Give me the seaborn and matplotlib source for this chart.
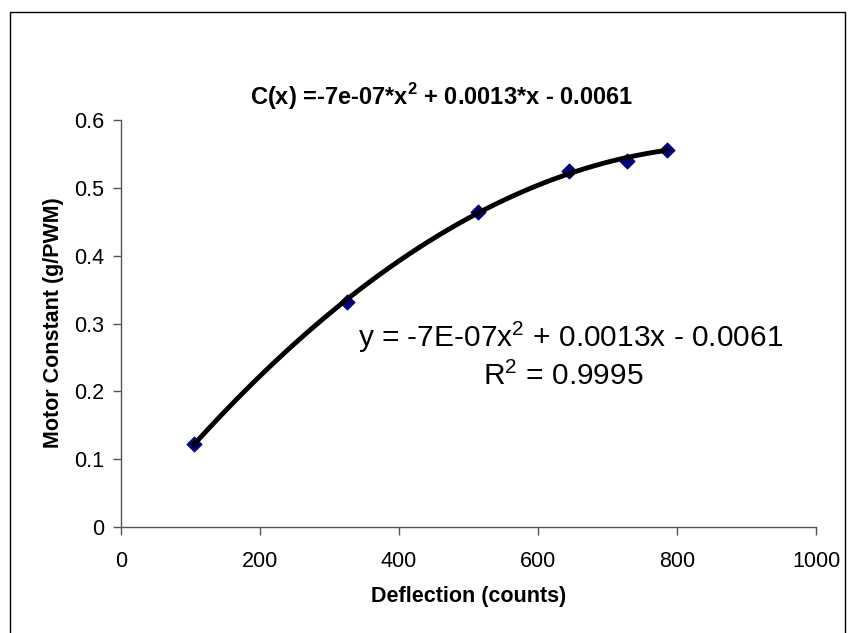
import matplotlib
matplotlib.use("Agg")
import matplotlib.pyplot as plt
import matplotlib.patches as patches
import seaborn as sns
import pandas as pd

# values
deflection = [105, 325, 513, 644, 728, 785]
motor_constant = [0.123, 0.331, 0.465, 0.525, 0.540, 0.556]
x_ticks = [0, 200, 400, 600, 800, 1000]
y_ticks = [0, 0.1, 0.2, 0.3, 0.4, 0.5, 0.6]

data = pd.DataFrame({"Deflection": deflection, "Motor Constant": motor_constant})

sns.set_style("white")
plt.rcParams["font.family"] = ["Liberation Sans", "DejaVu Sans"]
plt.rcParams["mathtext.fontset"] = "custom"
plt.rcParams["mathtext.rm"] = "Liberation Sans"
plt.rcParams["mathtext.bf"] = "Liberation Sans:bold"

fig = plt.figure(figsize=(8.52, 6.33), dpi=100)
ax = fig.add_axes([121 / 852, 1 - 527 / 633, 695 / 852, 407 / 633])

# 2nd order trendline (Excel style) and the measured points
sns.regplot(data=data, x="Deflection", y="Motor Constant", order=2, ci=None,
            scatter=False, truncate=True, ax=ax,
            line_kws={"color": "black", "lw": 3.5, "solid_capstyle": "round"})
sns.scatterplot(data=data, x="Deflection", y="Motor Constant", marker="D",
                s=60, color="#000080", edgecolor="#000080", zorder=1, ax=ax)

ax.set_xlim(0, 1000)
ax.set_ylim(0, 0.6)
ax.set_xticks(x_ticks)
ax.set_yticks(y_ticks)
ax.set_xticklabels([str(t) for t in x_ticks])
ax.set_yticklabels(["0" if t == 0 else f"{t:.1f}" for t in y_ticks])
ax.tick_params(axis="both", direction="out", length=6, width=1, color="#555555",
               labelsize=15.5, labelcolor="black", bottom=True, left=True)
ax.tick_params(axis="y", pad=6)
ax.tick_params(axis="x", pad=11)

for side in ["top", "right"]:
    ax.spines[side].set_visible(False)
for side in ["left", "bottom"]:
    ax.spines[side].set_color("#555555")
    ax.spines[side].set_linewidth(1)

ax.set_xlabel("Deflection (counts)", fontsize=15.5, fontweight="bold", color="black")
ax.set_ylabel("Motor Constant (g/PWM)", fontsize=15.5, fontweight="bold", color="black")
ax.xaxis.set_label_coords(0.5, -(586 - 527) / 407)
ax.yaxis.set_label_coords((64 - 121) / 695, 0.501)

fig.text(442 / 852, 1 - 97 / 633, r"C(x) =-7e-07*x$^{\mathbf{2}}$ + 0.0013*x - 0.0061",
         ha="center", va="center", fontsize=17, fontweight="bold", color="black")

ax.text(647, 0.280, r"y = -7E-07x$^{2}$ + 0.0013x - 0.0061", ha="center",
        va="center", fontsize=21.5, color="black")
ax.text(636, 0.222, r"R$^{2}$ = 0.9995", ha="center", va="center", fontsize=21.5,
        color="black")

# outer chart-area border
fig.patches.append(patches.Rectangle((10 / 852, -0.05), 835 / 852, 1 - 12 / 633 + 0.05,
                                     transform=fig.transFigure, fill=False,
                                     edgecolor="black", lw=1))

fig.savefig("out.png", dpi=100)
